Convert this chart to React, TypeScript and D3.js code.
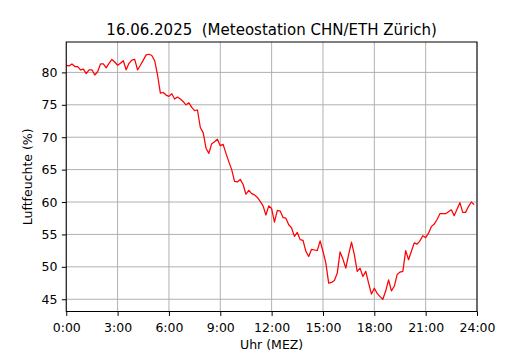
import React, { useEffect, useRef } from "react";
import * as d3 from "d3";

const title = "16.06.2025  (Meteostation CHN/ETH Zürich)";
const hourTicks = [0, 3, 6, 9, 12, 15, 18, 21, 24];
const hourLabels = ["0:00", "3:00", "6:00", "9:00", "12:00", "15:00", "18:00", "21:00", "24:00"];
const humidityTicks = [45, 50, 55, 60, 65, 70, 75, 80];

// relative humidity (%), one reading every 10 minutes from 0:00 to 23:50
const humidity = [
  81.1, 81.0, 81.3, 80.9, 80.9, 80.4, 80.5, 79.8, 80.4, 80.4, 79.6, 80.1,
  81.3, 81.3, 80.7, 81.4, 82.0, 81.6, 81.1, 81.4, 81.8, 80.4, 81.4, 81.9,
  82.0, 80.4, 81.1, 81.9, 82.7, 82.8, 82.6, 81.8, 79.6, 76.8, 76.9, 76.5,
  76.3, 76.7, 75.9, 76.2, 75.9, 75.5, 75.0, 75.3, 74.6, 74.1, 74.2, 71.5,
  70.7, 68.3, 67.5, 69.0, 69.3, 69.7, 68.7, 68.9, 67.5, 66.2, 65.0, 63.2,
  63.1, 63.5, 62.7, 61.2, 61.8, 61.3, 61.1, 60.7, 60.1, 59.4, 58.0, 59.4,
  59.0, 56.9, 58.7, 58.6, 57.6, 57.5, 56.5, 56.0, 54.7, 55.3, 54.2, 54.1,
  52.4, 51.6, 52.7, 52.6, 52.5, 54.0, 52.4, 50.6, 47.5, 47.6, 47.9, 49.0,
  52.3, 51.2, 49.8, 51.9, 53.8, 51.9, 49.3, 49.8, 48.5, 49.3, 47.5, 45.8,
  46.7, 45.9, 45.4, 45.0, 46.3, 48.0, 46.3, 47.0, 48.8, 49.2, 49.3, 52.5,
  51.1, 52.4, 53.7, 53.5, 54.0, 54.8, 54.5, 55.2, 56.2, 56.6, 57.3, 58.2,
  58.2, 58.2, 58.5, 58.8, 57.9, 58.9, 59.9, 58.4, 58.4, 59.3, 60.0, 59.6,
];

const App = () => {
  const chartRef = useRef<SVGSVGElement>(null);

  useEffect(() => {
    const svg = d3.select(chartRef.current);
    svg.selectAll("*").remove();

    const width = 530;
    const height = 350;
    const margin = { top: 42, right: 53, bottom: 38.5, left: 66.25 };
    const font = "DejaVu Sans";

    svg.append("rect").attr("width", width).attr("height", height).attr("fill", "#fff");

    // matplotlib style autoscale: 5% padding around the data
    const lo = d3.min(humidity)!;
    const hi = d3.max(humidity)!;
    const pad = (hi - lo) * 0.05;

    const x = d3.scaleLinear().domain([0, 24]).range([margin.left, width - margin.right]);
    const y = d3.scaleLinear().domain([lo - pad, hi + pad]).range([height - margin.bottom, margin.top]);

    // grid
    const grid = svg.append("g").attr("stroke", "#b0b0b0").attr("stroke-width", 1);
    grid.selectAll(".gx")
      .data(hourTicks)
      .enter().append("line")
      .attr("x1", d => x(d)).attr("x2", d => x(d))
      .attr("y1", margin.top).attr("y2", height - margin.bottom);
    grid.selectAll(".gy")
      .data(humidityTicks)
      .enter().append("line")
      .attr("x1", margin.left).attr("x2", width - margin.right)
      .attr("y1", d => y(d)).attr("y2", d => y(d));

    // humidity line
    const line = d3.line<number>()
      .x((_, i) => x(i / 6))
      .y(d => y(d));
    svg.append("path")
      .datum(humidity)
      .attr("d", line)
      .attr("fill", "none")
      .attr("stroke", "red")
      .attr("stroke-width", 1.25)
      .attr("stroke-linejoin", "round");

    // axes
    const xAxis = d3.axisBottom(x)
      .tickValues(hourTicks)
      .tickFormat((_, i) => hourLabels[i])
      .tickSizeInner(4.4)
      .tickSizeOuter(0)
      .tickPadding(7.5);
    const gx = svg.append("g")
      .attr("transform", `translate(0, ${height - margin.bottom})`)
      .call(xAxis);

    const yAxis = d3.axisLeft(y)
      .tickValues(humidityTicks)
      .tickSizeInner(4.4)
      .tickSizeOuter(0)
      .tickPadding(4.4);
    const gy = svg.append("g")
      .attr("transform", `translate(${margin.left}, 0)`)
      .call(yAxis);

    [gx, gy].forEach(g => {
      g.select(".domain").remove();
      g.selectAll("line").attr("stroke", "#000").attr("stroke-width", 1);
      g.selectAll("text")
        .attr("font-family", font)
        .attr("font-size", 12.5)
        .attr("fill", "#000");
    });

    // frame
    svg.append("rect")
      .attr("x", margin.left)
      .attr("y", margin.top)
      .attr("width", width - margin.left - margin.right)
      .attr("height", height - margin.top - margin.bottom)
      .attr("fill", "none")
      .attr("stroke", "#000")
      .attr("stroke-width", 1);

    // labels
    svg.append("text")
      .attr("x", (margin.left + width - margin.right) / 2)
      .attr("y", 34.5)
      .attr("text-anchor", "middle")
      .attr("font-family", font)
      .attr("font-size", 15)
      .style("white-space", "pre")
      .text(title);

    svg.append("text")
      .attr("x", (margin.left + width - margin.right) / 2)
      .attr("y", 348.5)
      .attr("text-anchor", "middle")
      .attr("font-family", font)
      .attr("font-size", 12.5)
      .text("Uhr (MEZ)");

    svg.append("text")
      .attr("transform", `translate(32, ${(margin.top + height - margin.bottom) / 2}) rotate(-90)`)
      .attr("text-anchor", "middle")
      .attr("font-family", font)
      .attr("font-size", 12.5)
      .text("Luftfeuchte (%)");
  }, []);

  return (
    <svg
      ref={chartRef}
      width={530}
      height={350}
      style={{ position: "absolute", left: 0, top: 0 }}
    />
  );
};

export default App;
